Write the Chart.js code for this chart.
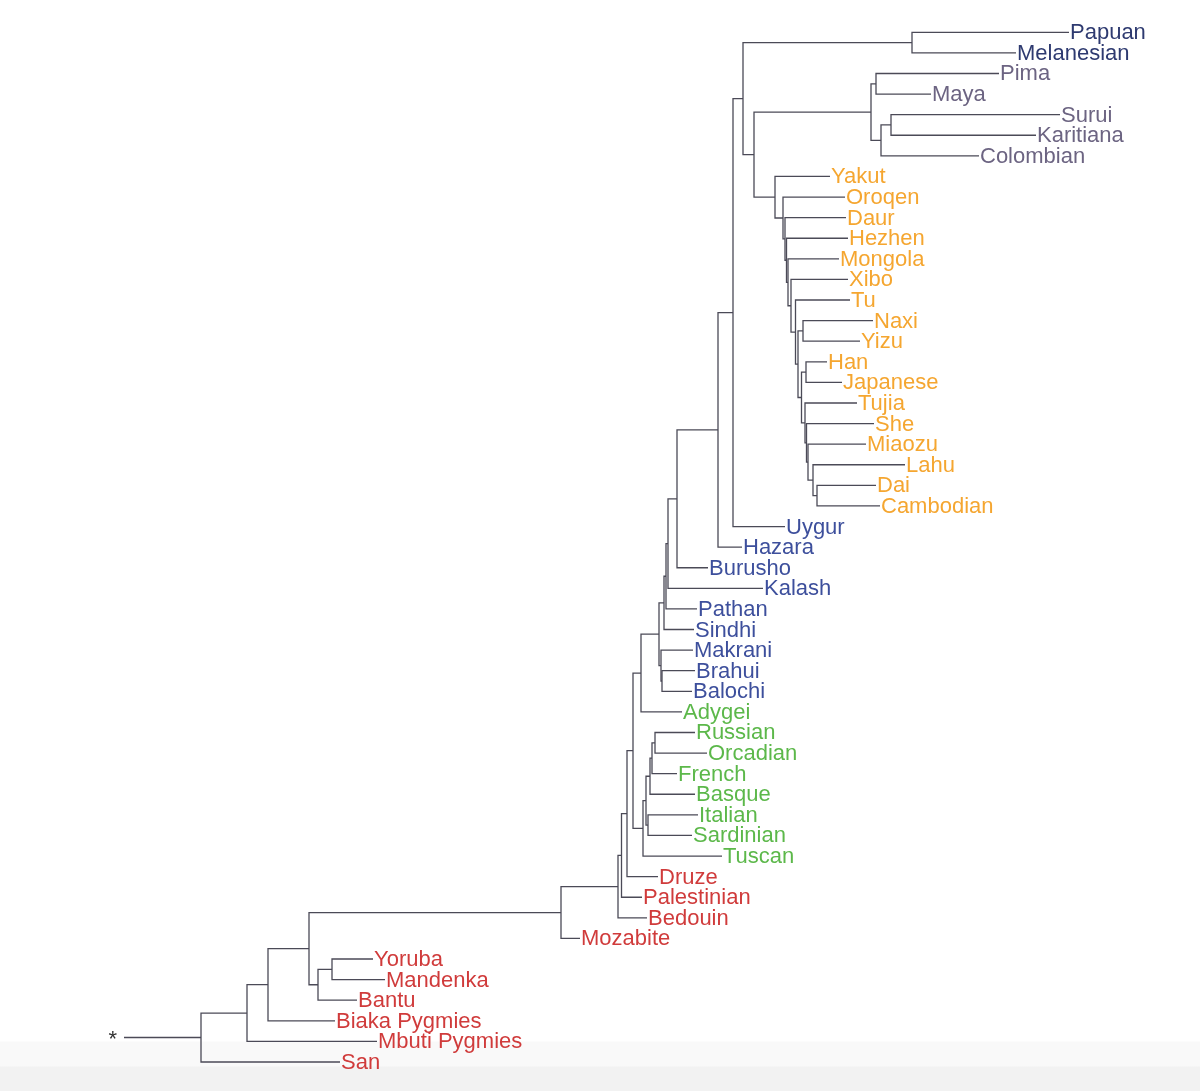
<!DOCTYPE html>
<html>
<head>
<meta charset="utf-8">
<script src="https://cdn.jsdelivr.net/npm/chart.js@4/dist/chart.umd.min.js"></script>
<style>
html,body{margin:0;padding:0;width:1200px;height:1091px;overflow:hidden;
background:linear-gradient(to bottom,#ffffff 0px,#ffffff 1041px,#f9f9f9 1042px,#f9f9f9 1066px,#f2f2f2 1067px,#f2f2f2 1091px);}
canvas{display:block;}
</style>
</head>
<body>
<canvas id="c" width="1200" height="1091"></canvas>
<script>
// ---- Leaves (top to bottom) ----
const leafNames = ["Papuan","Melanesian","Pima","Maya","Surui","Karitiana","Colombian",
 "Yakut","Oroqen","Daur","Hezhen","Mongola","Xibo","Tu","Naxi","Yizu","Han","Japanese","Tujia","She","Miaozu","Lahu","Dai","Cambodian",
 "Uygur","Hazara","Burusho","Kalash","Pathan","Sindhi","Makrani","Brahui","Balochi",
 "Adygei","Russian","Orcadian","French","Basque","Italian","Sardinian","Tuscan",
 "Druze","Palestinian","Bedouin","Mozabite","Yoruba","Mandenka","Bantu","Biaka Pygmies","Mbuti Pygmies","San"];
// leaf tip depth (distance along x)
const leafDepth = [1069,1016,999,931,1060,1036,979,
 830,845,846,848,839,848,850,873,860,827,842,857,874,866,905,876,880,
 785,742,708,763,697,694,693,695,692,
 682,695,707,677,695,698,692,722,
 658,642,647,580,373,385,357,335,377,340];
const leafGroup = [0,0,1,1,1,1,1,
 2,2,2,2,2,2,2,2,2,2,2,2,2,2,2,2,2,
 3,3,3,3,3,3,3,3,3,
 4,4,4,4,4,4,4,4,
 5,5,5,5,5,5,5,5,5,5];
const groupColors = ["#2e3a70","#6c6482","#f5a630","#3d4f9c","#5cb84a","#d03b3b"];

// ---- Internal nodes (post-order): name, left child, right child, depth ----
const nodeNames = ["T","V1","V3","V2","V","DC","LDC","MI","SH","TJ","HJ","HJT","NY","NYH","TU","XI","MO","HE","DA","OR","W","U","S","R","Q","P","N1","N2","N","BB","O","M","L","RO","K3","K2","IS","K1","K","J","I","H","G","D","F","E","C","B","A","Root"];
const nodeLeft  = ["Papuan","Pima","Surui","V3","V1","Dai","Lahu","Miaozu","She","Tujia","Han","HJ","Naxi","NY","Tu","Xibo","Mongola","Hezhen","Daur","Oroqen","Yakut","V","T","S","R","Q","P","N1","N2","Brahui","Makrani","N","M","Russian","RO","K3","Italian","K2","K1","L","J","I","H","G","Yoruba","F","D","C","B","A"];
const nodeRight = ["Melanesian","Maya","Karitiana","Colombian","V2","Cambodian","DC","LDC","MI","SH","Japanese","TJ","Yizu","HJT","NYH","TU","XI","MO","HE","DA","OR","W","U","Uygur","Hazara","Burusho","Kalash","Pathan","Sindhi","Balochi","BB","O","Adygei","Orcadian","French","Basque","Sardinian","IS","Tuscan","K","Druze","Palestinian","Bedouin","Mozabite","Mandenka","Bantu","E","Biaka Pygmies","Mbuti Pygmies","San"];
const nodeDepth = [912,876,891,881,871,817,813,808,806.5,805,806,801.5,803,798,795.5,791,788,786.5,785,783,775,754,743,733,718,677,668,666,664,662,661,659,641,655,652,650,648,646,643,633,627,621.5,618,561,332,318,309,268,247,201];
const rootStemStart = 124;
const rootLabel = "*";

// ---- layout: y of leaf = its index, y of node = mean of children ----
const pos = {};
leafNames.forEach((n,i)=>{pos[n]={x:leafDepth[i],y:i};});
nodeNames.forEach((n,i)=>{
  const a=pos[nodeLeft[i]], b=pos[nodeRight[i]];
  pos[n]={x:nodeDepth[i],y:(a.y+b.y)/2};
});
const lineColor = "#4b4a57";
const datasets = nodeNames.map((n,i)=>{
  const a=pos[nodeLeft[i]], b=pos[nodeRight[i]], x=nodeDepth[i];
  return {data:[{x:a.x,y:a.y},{x:x,y:a.y},{x:x,y:b.y},{x:b.x,y:b.y}]};
});
const r = pos["Root"];
datasets.push({data:[{x:rootStemStart,y:r.y},{x:r.x,y:r.y}]});
datasets.forEach(d=>{Object.assign(d,{showLine:true,borderColor:lineColor,borderWidth:1.3,pointRadius:0,tension:0,fill:false});});

const labelPlugin = {
  id:'leafLabels',
  afterDatasetsDraw(chart){
    const ctx=chart.ctx, xs=chart.scales.x, ys=chart.scales.y;
    ctx.save();
    ctx.font = '22px "Liberation Sans", Arial, Helvetica, sans-serif';
    ctx.textAlign='left'; ctx.textBaseline='alphabetic';
    leafNames.forEach((n,i)=>{
      ctx.fillStyle=groupColors[leafGroup[i]];
      ctx.fillText(n, xs.getPixelForValue(leafDepth[i])+1, ys.getPixelForValue(i)+7);
    });
    ctx.fillStyle="#333333";
    ctx.textAlign='right';
    ctx.fillText(rootLabel, xs.getPixelForValue(rootStemStart)-7, ys.getPixelForValue(r.y)+8);
    ctx.restore();
  }
};

new Chart(document.getElementById('c'),{
  type:'scatter',
  data:{datasets},
  options:{
    responsive:false, animation:false, devicePixelRatio:1,
    layout:{padding:0},
    plugins:{legend:{display:false},tooltip:{enabled:false}},
    scales:{
      x:{type:'linear',display:false,min:0,max:1200},
      y:{type:'linear',display:false,reverse:true,min:-1.568,max:51.409}
    }
  },
  plugins:[labelPlugin]
});
</script>
</body>
</html>
